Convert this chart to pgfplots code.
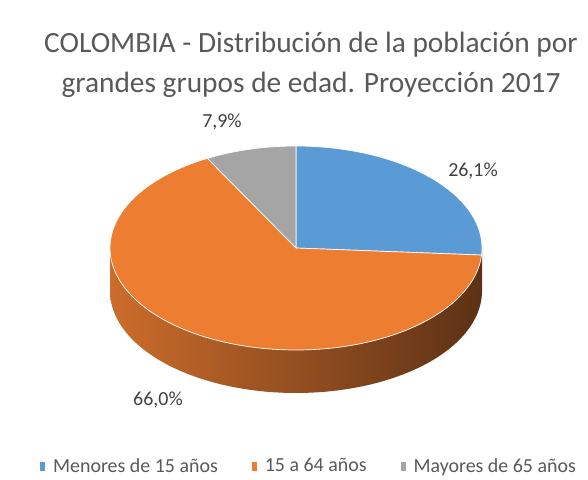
\documentclass[border=0pt]{standalone}
\usepackage{fontspec}
\setmainfont{Carlito}
\usepackage{pgfplots}
\pgfplotsset{compat=1.18}
\definecolor{cblue}{HTML}{5B9BD5}
\definecolor{corange}{HTML}{ED7D31}
\definecolor{cgray}{HTML}{A5A5A5}
\definecolor{sideL}{HTML}{CB6D2B}
\definecolor{sideM}{HTML}{8A481D}
\definecolor{sideR}{HTML}{5C3116}
\definecolor{titlegray}{HTML}{595959}
\definecolor{labgray}{HTML}{404040}
% values (percent)
\def\va{26.1}% Menores de 15 anos
\def\vb{66.0}% 15 a 64 anos
\def\vc{7.9}%  Mayores de 65 anos
\pgfmathsetmacro\aA{90-3.6*\va}
\pgfmathsetmacro\aB{\aA-3.6*\vb}
\pgfmathsetmacro\aC{\aB-3.6*\vc}
\def\cx{296}\def\cy{248}\def\rx{186}\def\ry{102}\def\dep{43}
\begin{document}
\begin{tikzpicture}
\begin{axis}[scale only axis, width=588bp, height=480bp,
  xmin=0, xmax=588, ymin=0, ymax=480, y dir=reverse,
  hide axis, clip=false,
  legend columns=3,
  legend style={at={(axis cs:308,466)}, anchor=center, draw=none, fill=none,
    font=\fontsize{20}{22}\selectfont, text=titlegray,
    nodes={inner xsep=0pt},
    /tikz/every odd column/.append style={column sep=8bp},
    /tikz/every even column/.append style={column sep=34bp}},
  legend image code/.code={\fill[#1,draw=none] (0bp,-4.5bp) rectangle (5bp,4.5bp);},
]
% side of the pie
\addplot[forget plot, draw=none, left color=sideL, middle color=sideM, right color=sideR,
  domain=180:360, samples=90] ({\cx+\rx*cos(x)},{\cy+\dep-\ry*sin(x)})
  -- (axis cs:\cx+\rx,\cy) -- (axis cs:\cx-\rx,\cy) -- cycle;
% top face
\addplot[fill=cblue, draw=white, line width=0.7bp, domain=\aA:90, samples=50]
  ({\cx+\rx*cos(x)},{\cy-\ry*sin(x)}) -- (axis cs:\cx,\cy) -- cycle;
\addlegendentry{Menores de 15 años}
\addplot[fill=corange, draw=white, line width=0.7bp, domain=\aB:\aA, samples=120]
  ({\cx+\rx*cos(x)},{\cy-\ry*sin(x)}) -- (axis cs:\cx,\cy) -- cycle;
\addlegendentry{15 a 64 años}
\addplot[fill=cgray, draw=white, line width=0.7bp, domain=\aC:\aB, samples=20]
  ({\cx+\rx*cos(x)},{\cy-\ry*sin(x)}) -- (axis cs:\cx,\cy) -- cycle;
\addlegendentry{Mayores de 65 años}
% labels
\node[font=\fontsize{20}{22}\selectfont, text=labgray] at (axis cs:473,171) {26,1\%};
\node[font=\fontsize{20}{22}\selectfont, text=labgray] at (axis cs:222,122) {7,9\%};
\node[font=\fontsize{20}{22}\selectfont, text=labgray] at (axis cs:158,400) {66,0\%};
% title
\node[align=center, font=\fontsize{29.5}{40}\selectfont, text=titlegray] at (axis cs:311,65)
  {COLOMBIA - Distribución de la población por\\grandes grupos de edad. Proyección 2017};
\end{axis}
\pgfresetboundingbox
\path[use as bounding box] (0,0) rectangle (588bp,480bp);
\end{tikzpicture}
\end{document}
